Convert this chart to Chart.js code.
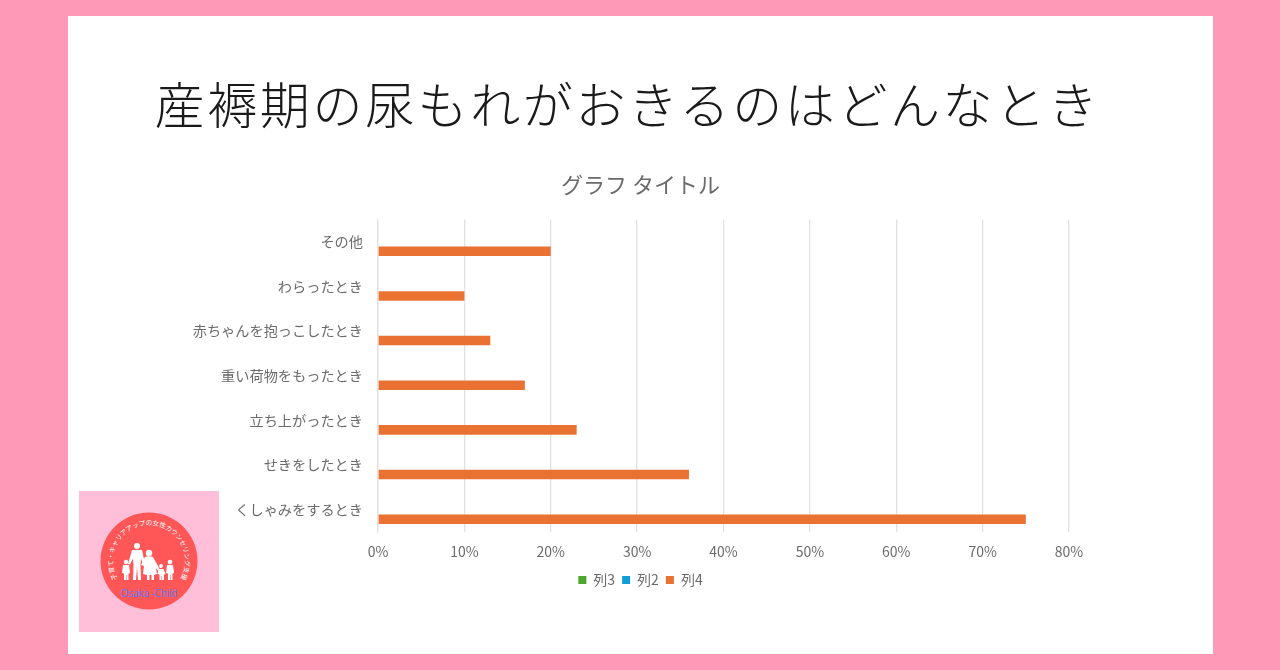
<!DOCTYPE html>
<html lang="ja">
<head>
<meta charset="utf-8">
<title>産褥期の尿もれがおきるのはどんなとき</title>
<script src="https://cdn.jsdelivr.net/npm/chart.js@4"></script>
<style>
  html, body { margin: 0; padding: 0; width: 1280px; height: 670px; overflow: hidden; background: #ff99b8; }
  #card { position: absolute; left: 68px; top: 16px; width: 1145px; height: 638px; background: #fff; }
  #mainTitle { position: absolute; left: -13px; top: 54px; width: 1145px; margin: 0; text-align: center; white-space: nowrap;
    font: 300 50px/64px "Noto Sans CJK JP", sans-serif; letter-spacing: 2.6px; color: #1a1a1a; }
  #grafico { position: absolute; left: 0; top: 140px; }
  #logo { position: absolute; left: 79px; top: 491px; width: 140px; height: 141px; }
</style>
</head>
<body>
<div id="card">
  <h1 id="mainTitle">産褥期の尿もれがおきるのはどんなとき</h1>
  <canvas id="grafico" width="1145" height="441"></canvas>
</div>
<svg id="logo" viewBox="0 0 140 141">
  <rect width="140" height="141" fill="#ffbfd9"/>
  <circle cx="70" cy="70" r="48.5" fill="#ff5757"/>
  <defs><path id="arco" d="M 40 90 A 36 36 0 1 1 100 90"/></defs>
  <text font-family="Noto Sans CJK JP" font-size="6.5" fill="#fff"><textPath href="#arco" startOffset="50%" text-anchor="middle">子育て・キャリアアップの女性カウンセリング支援</textPath></text>
  <g fill="#fff">
    <circle cx="58" cy="55" r="3"/><path d="M53 59h10l3 14-2 .5-2-6-.5 7 .5 14.500h-3l-1-13-1 13h-3l.5-14.500-.5-7-3 6-2-.5z"/>
    <circle cx="70" cy="62" r="3.200"/><path d="M66 66c2-1 6-1 8 0l5 9 3 6-1 1-4-5 1 6-3 1v5h-2.500v-5h-2v5H68v-5l-4-1 1-8-3-1z"/>
    <circle cx="47" cy="71" r="2.200"/><path d="M44 74h6l1 8-1.500.5V89h-2v-5h-.5v5h-2v-6.500L43 82z"/>
    <circle cx="82" cy="75" r="2"/><path d="M79.500 78h5l2 5-1.500.5V89h-2v-4h-.5v4h-2v-5.500l-2-.5z"/>
    <circle cx="91" cy="71" r="2.300"/><path d="M88 74h6l1 8-1.500.5V89h-2v-5h-.5v5h-2v-6.500L87 82z"/>
  </g>
  <text x="70" y="105.500" text-anchor="middle" font-family="Noto Sans" font-size="10" textLength="57" fill="#5e7bf0">Osaka -Child</text>
</svg>
<script>
var categorias = ['その他', 'わらったとき', '赤ちゃんを抱っこしたとき', '重い荷物をもったとき', '立ち上がったとき', 'せきをしたとき', 'くしゃみをするとき'];
var retsu3 = [null, null, null, null, null, null, null];
var retsu2 = [null, null, null, null, null, null, null];
var retsu4 = [20, 10, 13, 17, 23, 36, 75];
var ticksX = [0, 10, 20, 30, 40, 50, 60, 70, 80];

var fonte = '"Noto Sans CJK JP", sans-serif';
var cinza = '#6b6b6b';
var grade = '#e2e2e2';

new Chart(document.getElementById('grafico'), {
  type: 'bar',
  data: {
    labels: categorias,
    datasets: [
      { label: '列3', data: retsu3, backgroundColor: '#4ea72e' },
      { label: '列2', data: retsu2, backgroundColor: '#0f9ed5' },
      { label: '列4', data: retsu4, backgroundColor: '#e97132' }
    ]
  },
  options: {
    indexAxis: 'y',
    responsive: false,
    animation: false,
    layout: { padding: { top: 15 } },
    datasets: { bar: { barPercentage: 1, categoryPercentage: 0.64 } },
    plugins: {
      title: {
        display: true,
        text: 'グラフ タイトル',
        color: cinza,
        font: { family: fonte, size: 22, weight: 'normal' },
        padding: { top: 0, bottom: 22 }
      },
      legend: {
        position: 'bottom',
        labels: { color: cinza, boxWidth: 8, boxHeight: 8, padding: 7, font: { family: fonte, size: 14 } }
      },
      tooltip: { enabled: false }
    },
    scales: {
      x: {
        min: 0,
        max: 80,
        afterBuildTicks: function (eixo) { eixo.ticks = ticksX.map(function (v) { return { value: v }; }); },
        afterFit: function (eixo) { eixo.height = 34; },
        ticks: {
          color: cinza,
          maxRotation: 0,
          padding: 11,
          font: { family: fonte, size: 14 },
          callback: function (v) { return v + '%'; }
        },
        grid: { color: grade, lineWidth: 1.300, drawTicks: false },
        border: { display: false }
      },
      y: {
        afterFit: function (eixo) { eixo.width = 310; },
        ticks: { color: cinza, padding: 15, font: { family: fonte, size: 14.200 } },
        grid: { display: false, drawTicks: false },
        border: { color: grade, width: 1.300 }
      },
      // eixo vazio so para reservar a margem direita, titulo e legenda ficam centrados no canvas
      margem: {
        type: 'linear',
        axis: 'y',
        position: 'right',
        afterFit: function (eixo) { eixo.width = 144; },
        ticks: { display: false },
        grid: { display: false, drawTicks: false },
        border: { display: false }
      }
    }
  }
});
</script>
</body>
</html>
